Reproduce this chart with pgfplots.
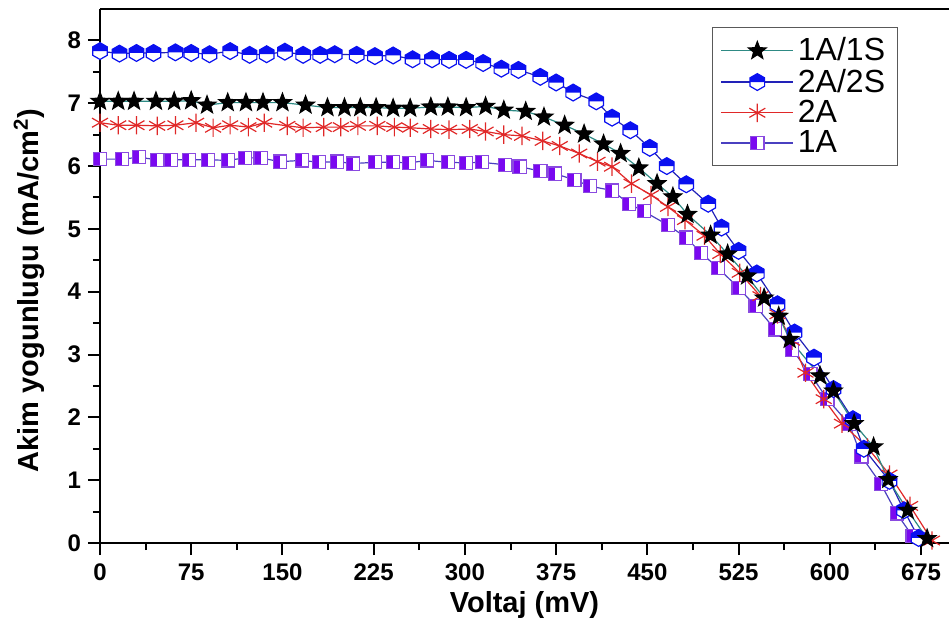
\documentclass[border=0pt]{standalone}
\usepackage{fontspec}
\setmainfont{Liberation Sans}
\usepackage{pgfplots}
\pgfplotsset{compat=1.18}

\definecolor{tealline}{HTML}{2E8A84}
\definecolor{hexblue}{HTML}{0A10F0}
\definecolor{hexline}{HTML}{2222B8}
\definecolor{redast}{HTML}{E02828}
\definecolor{sqpurple}{HTML}{7A08F0}
\definecolor{sqedge}{HTML}{8A4AE0}
\definecolor{sqline}{HTML}{4A40C0}

% half filled hexagon (top half blue)
\pgfdeclareplotmark{hexhalf}{%
  \pgfsetfillcolor{white}%
  \pgfpathmoveto{\pgfpointpolar{90}{\pgfplotmarksize}}%
  \pgfpathlineto{\pgfpointpolar{150}{\pgfplotmarksize}}%
  \pgfpathlineto{\pgfpointpolar{210}{\pgfplotmarksize}}%
  \pgfpathlineto{\pgfpointpolar{270}{\pgfplotmarksize}}%
  \pgfpathlineto{\pgfpointpolar{330}{\pgfplotmarksize}}%
  \pgfpathlineto{\pgfpointpolar{30}{\pgfplotmarksize}}%
  \pgfpathclose\pgfusepathqfill
  \pgfsetfillcolor{hexblue}%
  \pgfpathmoveto{\pgfqpoint{-0.866\pgfplotmarksize}{0pt}}%
  \pgfpathlineto{\pgfpointpolar{150}{\pgfplotmarksize}}%
  \pgfpathlineto{\pgfpointpolar{90}{\pgfplotmarksize}}%
  \pgfpathlineto{\pgfpointpolar{30}{\pgfplotmarksize}}%
  \pgfpathlineto{\pgfqpoint{0.866\pgfplotmarksize}{0pt}}%
  \pgfpathclose\pgfusepathqfill
  \pgfsetstrokecolor{hexblue}%
  \pgfpathmoveto{\pgfpointpolar{90}{\pgfplotmarksize}}%
  \pgfpathlineto{\pgfpointpolar{150}{\pgfplotmarksize}}%
  \pgfpathlineto{\pgfpointpolar{210}{\pgfplotmarksize}}%
  \pgfpathlineto{\pgfpointpolar{270}{\pgfplotmarksize}}%
  \pgfpathlineto{\pgfpointpolar{330}{\pgfplotmarksize}}%
  \pgfpathlineto{\pgfpointpolar{30}{\pgfplotmarksize}}%
  \pgfpathclose\pgfusepathqstroke
}
% half filled square (left half purple)
\pgfdeclareplotmark{sqhalf}{%
  \pgfsetfillcolor{white}%
  \pgfpathrectanglecorners{\pgfqpoint{-\pgfplotmarksize}{-\pgfplotmarksize}}{\pgfqpoint{\pgfplotmarksize}{\pgfplotmarksize}}%
  \pgfusepathqfill
  \pgfsetfillcolor{sqpurple}%
  \pgfpathrectanglecorners{\pgfqpoint{-\pgfplotmarksize}{-\pgfplotmarksize}}{\pgfqpoint{0pt}{\pgfplotmarksize}}%
  \pgfusepathqfill
  \pgfsetstrokecolor{sqedge}%
  \pgfpathrectanglecorners{\pgfqpoint{-\pgfplotmarksize}{-\pgfplotmarksize}}{\pgfqpoint{\pgfplotmarksize}{\pgfplotmarksize}}%
  \pgfusepathqstroke
}
% filled five point star
\pgfdeclareplotmark{fstar}{%
  \pgfsetfillcolor{black}\pgfsetstrokecolor{black}%
  \pgfpathmoveto{\pgfpointpolar{90}{\pgfplotmarksize}}%
  \pgfpathlineto{\pgfpointpolar{126}{0.42*\pgfplotmarksize}}%
  \pgfpathlineto{\pgfpointpolar{162}{\pgfplotmarksize}}%
  \pgfpathlineto{\pgfpointpolar{198}{0.42*\pgfplotmarksize}}%
  \pgfpathlineto{\pgfpointpolar{234}{\pgfplotmarksize}}%
  \pgfpathlineto{\pgfpointpolar{270}{0.42*\pgfplotmarksize}}%
  \pgfpathlineto{\pgfpointpolar{306}{\pgfplotmarksize}}%
  \pgfpathlineto{\pgfpointpolar{342}{0.42*\pgfplotmarksize}}%
  \pgfpathlineto{\pgfpointpolar{18}{\pgfplotmarksize}}%
  \pgfpathlineto{\pgfpointpolar{54}{0.42*\pgfplotmarksize}}%
  \pgfpathclose\pgfusepathqfillstroke
}

\begin{document}
\begin{tikzpicture}
\begin{axis}[
  scale only axis, width=424.5pt, height=267pt,
  xmin=0, xmax=698, ymin=0, ymax=8.5,
  axis x line*=bottom, axis y line*=left,
  axis line style={-, line width=1pt},
  xtick={0,75,...,675}, ytick={0,1,...,8},
  minor x tick num=1, minor y tick num=1,
  tick align=outside, major tick length=6pt, minor tick length=3.5pt,
  every tick/.style={line width=1pt, black},
  ticklabel style={font=\bfseries\fontsize{12}{14}\selectfont},
  xticklabel style={yshift=-1pt},
  /pgf/number format/assume math mode=true,
  xlabel={Voltaj (mV)},
  ylabel={Akim yogunlugu (mA/cm\textsuperscript{2})},
  label style={font=\bfseries\fontsize{14.5}{17}\selectfont},
  x label style={at={(axis description cs:0.5,-0.116)}, anchor=center},
  y label style={at={(axis description cs:-0.0836,0.473)}, anchor=center},
  clip=false,
  legend style={at={(0.721,0.966)}, anchor=north west, draw=black!65,
    line width=0.6pt, font=\fontsize{16}{18}\selectfont, row sep=-1.5pt,
    inner xsep=4pt, inner ysep=3pt},
  legend cell align=left,
  reverse legend,
  legend image code/.code={\draw[mark repeat=2,mark phase=2,#1]
    plot coordinates {(0pt,0pt) (18pt,0pt) (36pt,0pt)};},
]
\coordinate (o) at (rel axis cs:0,0);

% 1A
\addplot[color=sqline, line width=0.6pt, mark=sqhalf, mark size=3.3pt, mark options={solid}] coordinates {
(0,6.11) (18,6.11) (32,6.14) (47,6.10) (58,6.10) (73,6.10) (89,6.10) (105,6.09)
(119,6.13) (132,6.13) (148,6.07) (166,6.09) (180,6.06) (195,6.07) (208,6.04)
(226,6.06) (241,6.06) (254,6.05) (269,6.09) (286,6.06) (301,6.05) (314,6.06)
(333,6.02) (345,5.99) (362,5.92) (374,5.88) (390,5.78) (403,5.68) (421,5.61)
(435,5.40) (447,5.28) (467,5.06) (482,4.86) (494,4.62) (508,4.38) (525,4.06)
(539,3.77) (555,3.40) (569,3.08) (584,2.69) (598,2.29) (616,1.89) (626,1.38)
(642,0.94) (655,0.47) (668,0.11)};
\addlegendentry{1A}

% 2A
\addplot[color=redast, line width=0.6pt, mark=asterisk, mark size=4.6pt, mark options={solid}] coordinates {
(0,6.69) (15,6.65) (30,6.65) (47,6.64) (62,6.65) (79,6.69) (93,6.61) (107,6.65)
(122,6.62) (135,6.69) (154,6.64) (167,6.61) (184,6.62) (198,6.62) (212,6.64)
(228,6.64) (242,6.62) (255,6.61) (272,6.59) (287,6.58) (304,6.59) (317,6.55)
(332,6.50) (347,6.48) (364,6.40) (378,6.32) (394,6.20) (409,6.07) (421,5.99)
(437,5.72) (453,5.54) (467,5.35) (481,5.14) (497,4.89) (510,4.60) (526,4.30)
(543,3.93) (557,3.64) (569,3.22) (580,2.71) (595,2.29) (610,1.90) (631,1.52)
(649,1.09) (666,0.59) (684,0.04)};
\addlegendentry{2A}

% 2A/2S
\addplot[color=hexline, line width=0.6pt, mark=hexhalf, mark size=4.2pt, mark options={solid}] coordinates {
(0,7.83) (16,7.79) (30,7.80) (44,7.80) (62,7.81) (75,7.80) (90,7.78) (107,7.83)
(123,7.77) (137,7.78) (152,7.82) (167,7.77) (181,7.77) (193,7.78) (211,7.77)
(226,7.75) (241,7.76) (257,7.70) (273,7.70) (287,7.69) (301,7.69) (315,7.64)
(330,7.55) (344,7.53) (362,7.42) (375,7.33) (389,7.17) (408,7.03) (421,6.77)
(436,6.57) (452,6.29) (466,6.00) (482,5.71) (500,5.40) (511,5.02) (525,4.65)
(540,4.29) (557,3.80) (571,3.35) (587,2.95) (603,2.45) (619,1.97) (628,1.50)
(649,0.99) (661,0.52) (673,0.08)};
\addlegendentry{2A/2S}

% 1A/1S
\addplot[color=tealline, line width=0.6pt, mark=fstar, mark size=4.6pt, mark options={solid}] coordinates {
(0,7.03) (15,7.03) (28,7.03) (46,7.03) (61,7.03) (75,7.04) (88,6.97) (105,7.01)
(120,7.01) (134,7.01) (150,7.01) (169,6.97) (187,6.93) (201,6.93) (214,6.93)
(227,6.93) (241,6.92) (255,6.92) (272,6.94) (286,6.94) (301,6.93) (317,6.95)
(332,6.89) (350,6.87) (365,6.78) (382,6.65) (398,6.51) (414,6.35) (428,6.20)
(443,5.97) (458,5.72) (471,5.51) (483,5.23) (502,4.90) (516,4.60) (532,4.25)
(546,3.90) (558,3.61) (567,3.24) (592,2.66) (603,2.42) (620,1.90) (636,1.53)
(648,1.01) (664,0.52) (680,0.07)};
\addlegendentry{1A/1S}

\draw[line width=1pt] (rel axis cs:0,1) -- (rel axis cs:1,1);
\end{axis}
\pgfresetboundingbox
\path (o) ++(-50pt,-45pt) rectangle ++(474.5pt,316.5pt);
\end{tikzpicture}
\end{document}
